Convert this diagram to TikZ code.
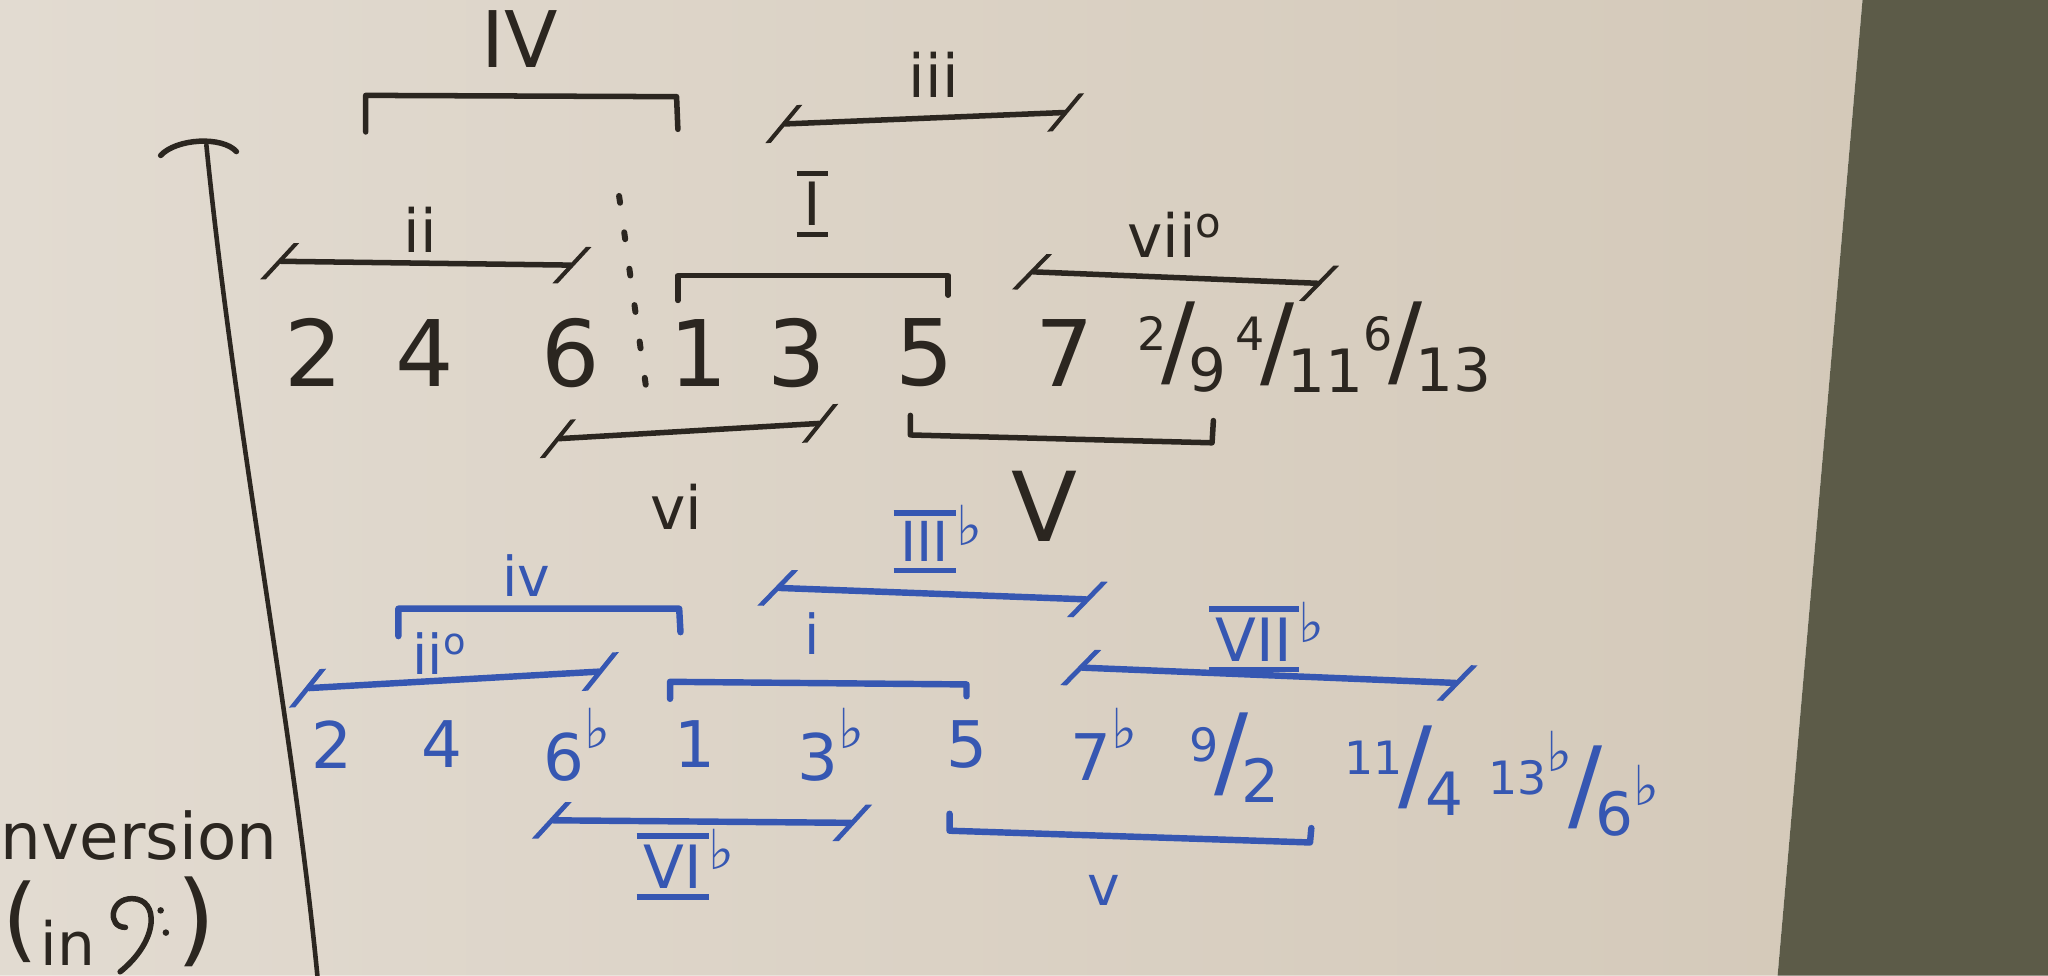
\documentclass[tikz,border=0pt]{standalone}
\usepackage{fontspec}
\setmainfont{DejaVu Sans}
\usetikzlibrary{arrows.meta}

\definecolor{board}{HTML}{D4C9B9}
\definecolor{boardlt}{HTML}{E2DBD1}
\definecolor{wall}{HTML}{5C5B48}
\definecolor{ink}{HTML}{2B2620}
\definecolor{blueink}{HTML}{3657B2}

\newcommand{\fsz}[1]{\fontsize{#1}{#1}\selectfont}
\newcommand{\barred}[1]{\vbox{\hrule height 1.2pt\kern1.3pt\hbox{\kern1.5pt#1\kern1.5pt}\kern1.3pt\hrule height 1.2pt}}
\newcommand{\flt}{\raisebox{0.5em}{\fsz{12}\bfseries ♭}}
\newcommand{\slfrac}[2]{\raisebox{0.55em}{\fsz{10}#1}\kern-0.1em{\fsz{22}/}\kern-0.15em\raisebox{-0.35em}{\fsz{13}#2}}

\tikzset{
  tk/.tip={Bar[width=8pt,slant=0.9]},
  chalk/.style={draw=ink, line width=1.2pt, line cap=round, line join=round},
  bluechalk/.style={draw=blueink, line width=1.4pt, line cap=round, line join=round},
  blk/.style={text=ink, inner sep=0pt},
  blu/.style={text=blueink, inner sep=0pt},
  digit/.style={blk, font=\fsz{20}},
  bdigit/.style={blu, font=\fsz{14}},
}

\begin{document}
\begin{tikzpicture}[x=0.01cm, y=-0.01cm, >=tk]
    % board and wall
    \useasboundingbox (0,0) rectangle (1568,747);
    \shade[left color=boardlt, right color=board] (0,0) -- (1426,0) -- (1361,747) -- (0,747) -- cycle;
    \fill[wall] (1426,0) -- (1568,0) -- (1568,747) -- (1361,747) -- cycle;

    % margin line
    \draw[chalk, line width=1pt] (158,111) .. controls (180,330) and (225,560) .. (243,747);
    \draw[chalk] (123,119) .. controls (135,106) and (170,104) .. (181,116);

    % major: chord names
    \path
    (398,30)  node[blk, font=\fsz{17}] (IV) {IV}
    (715,57)  node[blk, font=\fsz{13}] (iii) {iii}
    (322,176) node[blk, font=\fsz{13}] (ii) {ii}
    (622,156) node[blk, font=\fsz{13}] (I) {\barred{I}}
    (900,180) node[blk, font=\fsz{13}] (vii) {vii\textsuperscript{o}}
    (518,388) node[blk, font=\fsz{13}] (vi) {vi}
    (800,388) node[blk, font=\fsz{21}] (V) {V};

    % major: degrees
    \path
    (240,270)  node[digit] (M2) {2}
    (325,270)  node[digit] (M4) {4}
    (437,270)  node[digit] (M6) {6}
    (535,270)  node[digit] (M1) {1}
    (610,270)  node[digit] (M3) {3}
    (708,270)  node[digit] (M5) {5}
    (815,270)  node[digit] (M7) {7}
    (905,266)  node[blk] (M9) {\slfrac{2}{9}}
    (995,266)  node[blk] (M11) {\slfrac{4}{11}}
    (1093,266) node[blk] (M13) {\slfrac{6}{13}};

    % major: spans
    \draw[chalk] (280,101) -- (280,73) -- (518,74) -- (519,99);
    \draw[chalk, >-<] (598,95) -- (818,86);
    \draw[chalk, >-<] (212,200) -- (440,203);
    \draw[chalk] (519,230) -- (519,211) -- (726,211) -- (726,226);
    \draw[chalk, >-<] (788,208) -- (1012,217);
    \draw[chalk, >-<] (425,336) -- (630,324);
    \draw[chalk] (697,318) -- (697,333) -- (928,339) -- (929,322);
    \draw[ink, line width=1.3pt, line cap=round, dash pattern=on 1.5pt off 6.5pt] (474,150) -- (496,306);

    % minor: chord names
    \path
    (718,413) node[blu, font=\fsz{12}] (bIII) {\barred{III}\flt}
    (403,441) node[blu, font=\fsz{12}] (biv) {iv}
    (337,500) node[blu, font=\fsz{12}] (bii) {ii\textsuperscript{o}}
    (622,485) node[blu, font=\fsz{12}] (bi) {i}
    (970,488) node[blu, font=\fsz{13}] (bVII) {\barred{VII}\flt}
    (525,662) node[blu, font=\fsz{13}] (bVI) {\barred{VI}\flt}
    (845,682) node[blu, font=\fsz{12}] (bv) {v};

    % minor: degrees
    \path
    (254,570)  node[bdigit] (m2) {2}
    (338,570)  node[bdigit] (m4) {4}
    (442,570)  node[bdigit] (m6) {6\flt}
    (532,570)  node[bdigit] (m1) {1}
    (636,570)  node[bdigit] (m3) {3\flt}
    (740,570)  node[bdigit] (m5) {5}
    (845,570)  node[bdigit] (m7) {7\flt}
    (945,580)  node[blu] (m9) {\slfrac{9}{2}}
    (1075,590) node[blu] (m11) {\slfrac{11}{4}}
    (1205,600) node[blu] (m13) {\slfrac{13\flt}{6\flt}};

    % minor: spans
    \draw[bluechalk, >-<] (593,450) -- (835,459);
    \draw[bluechalk] (305,487) -- (305,466) -- (520,466) -- (521,484);
    \draw[bluechalk, >-<] (233,527) -- (462,514);
    \draw[bluechalk] (513,535) -- (513,522) -- (740,524) -- (740,533);
    \draw[bluechalk, >-<] (825,511) -- (1118,523);
    \draw[bluechalk, >-<] (420,628) -- (655,630);
    \draw[bluechalk] (727,623) -- (727,636) -- (1003,645) -- (1004,634);

    % note in the corner
    \node[blk, anchor=west, font=\fsz{14}] (inv) at (0,640) {nversion};
    \node[blk, anchor=west, font=\fsz{20}] (lp) at (1,706) {(};
    \node[blk, font=\fsz{13}] (in) at (52,722) {in};
    \draw[chalk] (96,710) .. controls (82,710) and (84,688) .. (101,688) .. controls (122,688) and (122,720) .. (92,744);
    \fill[ink] (123,697) circle (2.5);
    \fill[ink] (127,714) circle (2.5);
    \node[blk, font=\fsz{22}] (rp) at (150,706) {)};
\end{tikzpicture}
\end{document}
